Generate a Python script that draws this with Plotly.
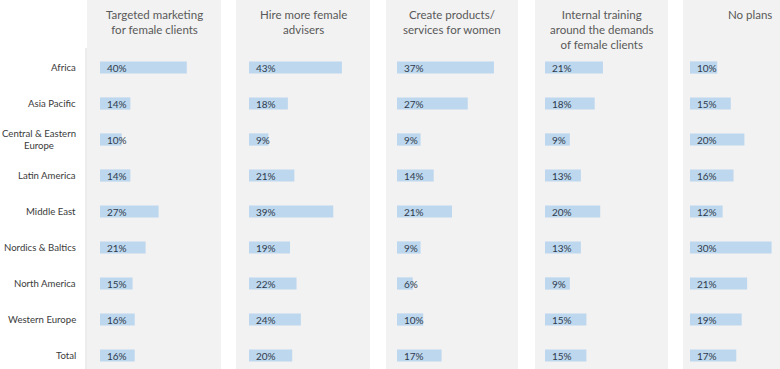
import plotly.graph_objects as go

regions = ["Africa", "Asia Pacific", "Central & Eastern Europe", "Latin America",
           "Middle East", "Nordics & Baltics", "North America", "Western Europe", "Total"]
region_labels = ["Africa", "Asia Pacific", "Central & Eastern<br>Europe", "Latin America",
                 "Middle East", "Nordics & Baltics", "North America", "Western Europe", "Total"]

titles = ["Targeted marketing<br>for female clients",
          "Hire more female<br>advisers",
          "Create products/<br>services for women",
          "Internal training<br>around the demands<br>of female clients",
          "No plans"]

targeted_marketing = [40, 14, 10, 14, 27, 21, 15, 16, 16]
hire_advisers = [43, 18, 9, 21, 39, 19, 22, 24, 20]
create_products = [37, 27, 9, 14, 21, 9, 6, 10, 17]
internal_training = [21, 18, 9, 13, 20, 13, 9, 15, 15]
no_plans = [10, 15, 20, 16, 12, 30, 21, 19, 17]
series = [targeted_marketing, hire_advisers, create_products, internal_training, no_plans]

W, H = 780, 369
# panel geometry in pixels (style)
pan_left = [87, 236, 386, 535, 683]
pan_right = [221, 370, 518, 668, 780]
pan_center = [154, 303, 452, 601.5, 750]
bar_start = [100, 249, 397, 545, 690]
px_per_pct = [2.17, 2.16, 2.62, 2.76, 2.72]

BAR = "#BDD7EE"
PANEL = "#F2F2F2"
TXT = "#404040"
FONT = "Lato, Open Sans, sans-serif"

fig = go.Figure()
row_center0 = 67.5
row_step = 36.0
y_top = -row_center0 / row_step
y_bot = 8 + (H - (row_center0 + 8 * row_step)) / row_step

for i, vals in enumerate(series):
    n = "" if i == 0 else str(i + 1)
    fig.add_trace(go.Bar(
        x=vals, y=regions, orientation="h",
        marker=dict(color=BAR, line=dict(width=0)),
        width=0.34, xaxis="x" + n, yaxis="y" + n,
        hoverinfo="x+y", showlegend=False,
    ))
    for r, v in zip(regions, vals):
        fig.add_annotation(
            x=0, y=r, xref="x" + n, yref="y" + n, text=f"{v}%",
            showarrow=False, xanchor="left", yanchor="middle", xshift=5,
            font=dict(family=FONT, size=10, color="#2F3B4C"),
        )
    k = px_per_pct[i]
    xmin = -(bar_start[i] - pan_left[i]) / k
    xmax = (pan_right[i] - bar_start[i]) / k
    fig.update_layout(**{
        "xaxis" + n: dict(domain=[pan_left[i] / W, pan_right[i] / W], range=[xmin, xmax],
                          showgrid=False, zeroline=False, showticklabels=False, showline=False,
                          fixedrange=True),
        "yaxis" + n: dict(domain=[0, 1], range=[y_bot, y_top], type="category",
                          categoryorder="array", categoryarray=regions,
                          showgrid=False, zeroline=False, showticklabels=False, showline=False,
                          anchor="x" + n, fixedrange=True),
    })
    fig.add_shape(type="rect", xref="paper", yref="paper",
                  x0=pan_left[i] / W, x1=pan_right[i] / W, y0=0, y1=1,
                  fillcolor=PANEL, line=dict(width=0), layer="below")
    fig.add_annotation(
        x=pan_center[i] / W, y=1 - 6 / H, xref="paper", yref="paper", text=titles[i],
        showarrow=False, xanchor="center", yanchor="top", align="center",
        font=dict(family=FONT, size=11.5, color="#595959"),
    )

for r, lab in zip(regions, region_labels):
    fig.add_annotation(
        x=78 / W, y=r, xref="paper", yref="y", text=lab, showarrow=False,
        xanchor="right", yanchor="middle", align="center",
        font=dict(family=FONT, size=9.6, color="#3A3A3A"),
    )

fig.add_shape(type="line", xref="paper", yref="paper", x0=86 / W, x1=86 / W,
              y0=0, y1=1 - 48 / H, line=dict(color="#D9D9D9", width=1))

fig.update_layout(
    width=W, height=H, margin=dict(l=0, r=0, t=0, b=0),
    paper_bgcolor="white", plot_bgcolor="rgba(0,0,0,0)",
    bargap=0.6, showlegend=False,
)

fig.write_html("out.html", config={"displayModeBar": False},
               post_script="document.body.style.margin='0';document.body.style.overflow='hidden';")
